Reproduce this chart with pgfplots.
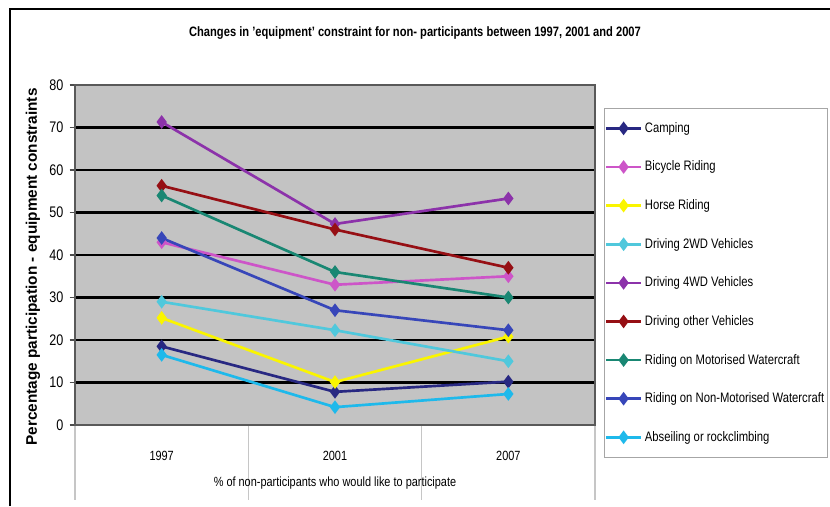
\documentclass[border=0pt]{standalone}
\usepackage{fontspec}
\setmainfont{Liberation Sans}[FakeStretch=0.82]
\newfontfamily\widefont{Liberation Sans}
\usepackage{pgfplots}
\usepackage{pgfplotstable}
\pgfplotsset{compat=1.18}
\definecolor{cCamp}{RGB}{40,40,130}
\definecolor{cBike}{RGB}{205,85,200}
\definecolor{cHorse}{RGB}{250,245,0}
\definecolor{cTwo}{RGB}{80,200,220}
\definecolor{cFour}{RGB}{140,50,170}
\definecolor{cOther}{RGB}{150,15,20}
\definecolor{cMotor}{RGB}{25,135,115}
\definecolor{cNon}{RGB}{55,70,185}
\definecolor{cAbs}{RGB}{30,185,235}
\definecolor{bgGray}{RGB}{195,195,195}
\pgfplotstableread{
x camp bike horse twowd fourwd other motor nonmotor abseil
0 18.5 43 25.2 29 71.3 56.3 54 44 16.5
1 7.8 33 10.1 22.3 47.3 46 36 27 4.2
2 10.2 35 20.8 15 53.3 37 30 22.3 7.3
}\data
\begin{document}
\begin{tikzpicture}
\useasboundingbox (0,0) rectangle (622.5pt,379.5pt);
\draw[line width=1.8pt] (7.5pt,0) -- (7.5pt,372.75pt) -- (622.5pt,372.75pt);
\node[font=\bfseries\fontsize{10.2}{12}\selectfont] at (311.25pt,354.5pt) {Changes in 'equipment' constraint for non- participants between 1997, 2001 and 2007};
\begin{axis}[
  at={(56.25pt,60.75pt)}, anchor=south west,
  scale only axis, width=390pt, height=255pt,
  xmin=-0.5, xmax=2.5, ymin=0, ymax=80,
  axis background/.style={fill=bgGray},
  axis line style={gray!70!black, line width=0.8pt},
  tick pos=left,
  xtick={-0.5,0.5,1.5,2.5}, xticklabels={},
  xtick style={draw=gray!45, line width=0.8pt, /pgfplots/major tick length=56pt},
  tick align=outside,
  extra x ticks={0,1,2}, extra x tick labels={1997,2001,2007},
  extra x tick style={xtick style={draw=none, /pgfplots/major tick length=0pt}, tick label style={yshift=-12pt}},
  ytick={0,10,...,80},
  ytick style={draw=gray!60!black, line width=0.8pt, /pgfplots/major tick length=4pt},
  ymajorgrids, y grid style={black, line width=1.6pt},
  /pgf/number format/assume math mode=true,
  tick label style={font=\fontsize{10}{12}\selectfont},
  yticklabel style={font=\fontsize{11.5}{12}\selectfont, xshift=-1pt},
  xlabel={\% of non-participants who would like to participate},
  xlabel style={at={(axis description cs:0.5,-0.172)}, anchor=center, font=\fontsize{10}{12}\selectfont},
  ylabel={Percentage participation - equipment constraints},
  ylabel style={at={(axis description cs:-0.081,0.465)}, anchor=center, font=\widefont\bfseries\fontsize{11.5}{13}\selectfont},
  every axis plot/.append style={line width=2pt, mark=diamond*, mark size=3.5pt, mark options={solid}},
  legend style={at={(axis description cs:1.0173,0.932)}, anchor=north west,
    draw=gray!70, fill=white, font=\fontsize{10.3}{12}\selectfont,
    row sep=16pt, inner xsep=0.5pt, inner ysep=8.5pt},
  legend cell align=left,
  legend image code/.code={\draw[mark repeat=2,mark phase=2] plot coordinates {(0pt,0pt) (13pt,0pt) (26pt,0pt)};},
  clip=false,
]
\addplot[color=cCamp] table[x=x,y=camp]{\data};
\addlegendentry{Camping}
\addplot[color=cBike] table[x=x,y=bike]{\data};
\addlegendentry{Bicycle Riding}
\addplot[color=cHorse] table[x=x,y=horse]{\data};
\addlegendentry{Horse Riding}
\addplot[color=cTwo] table[x=x,y=twowd]{\data};
\addlegendentry{Driving 2WD Vehicles}
\addplot[color=cFour] table[x=x,y=fourwd]{\data};
\addlegendentry{Driving 4WD Vehicles}
\addplot[color=cOther] table[x=x,y=other]{\data};
\addlegendentry{Driving other Vehicles}
\addplot[color=cMotor] table[x=x,y=motor]{\data};
\addlegendentry{Riding on Motorised Watercraft}
\addplot[color=cNon] table[x=x,y=nonmotor]{\data};
\addlegendentry{Riding on Non-Motorised Watercraft}
\addplot[color=cAbs] table[x=x,y=abseil]{\data};
\addlegendentry{Abseiling or rockclimbing}
\end{axis}
\end{tikzpicture}
\end{document}
